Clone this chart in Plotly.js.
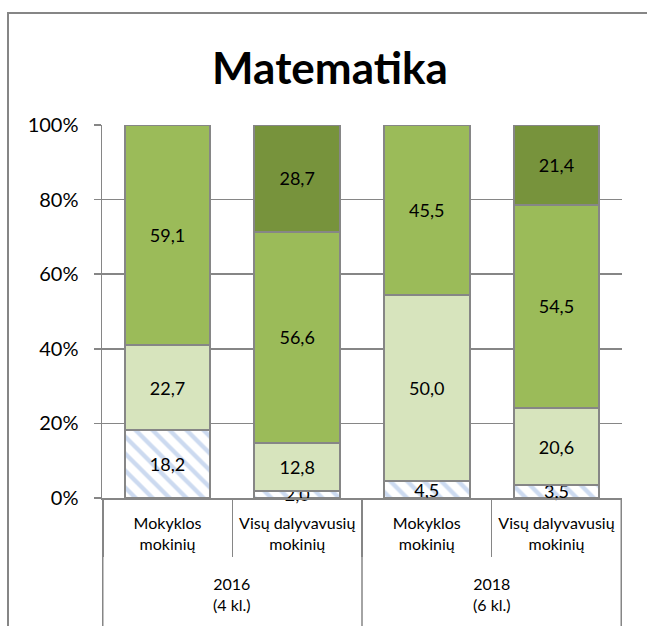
<!DOCTYPE html>
<html>
<head>
<meta charset="utf-8">
<script src="https://cdn.plot.ly/plotly-3.0.1.min.js"></script>
<style>
html,body{margin:0;padding:0;background:#fff;overflow:hidden;}
#wrap{position:relative;width:647px;height:626px;overflow:hidden;}
#chart{width:647px;height:626px;}
#frametop{position:absolute;left:7px;top:12px;width:640px;height:2px;background:#868686;pointer-events:none;}
#frameleft{position:absolute;left:7px;top:12px;width:2px;height:614px;background:#868686;pointer-events:none;}
</style>
</head>
<body>
<div id="wrap"><div id="chart"></div><div id="frametop"></div><div id="frameleft"></div></div>
<script>
const years = ["2016<br>(4 kl.)", "2016<br>(4 kl.)", "2018<br>(6 kl.)", "2018<br>(6 kl.)"];
const groups = ["Mokyklos<br>mokinių", "Visų dalyvavusių<br>mokinių", "Mokyklos<br>mokinių", "Visų dalyvavusių<br>mokinių"];
const level1 = [18.2, 2.0, 4.5, 3.5];
const level2 = [22.7, 12.8, 50.0, 20.6];
const level3 = [59.1, 56.6, 45.5, 54.5];
const level4 = [0, 28.7, 0, 21.4];
const yTickVals = [0, 20, 40, 60, 80, 100];

const fmt = v => (v ? v.toFixed(1).replace(".", ",") : "");
const grey = "#868686";
const keys = years.map((y, i) => y + " | " + groups[i]);

function bar(vals, fill) {
  return {
    type: "bar",
    x: keys,
    y: vals,
    text: vals.map(fmt),
    textposition: "inside",
    insidetextanchor: "middle",
    constraintext: "none",
    textangle: 0,
    textfont: {family: "Lato", size: 18, color: "#000"},
    hoverinfo: "skip",
    marker: {color: fill, line: {color: grey, width: vals.map(v => (v ? 2 : 0))}},
    showlegend: false
  };
}

const t1 = bar(level1, "#ffffff");
t1.cliponaxis = false;
t1.marker.pattern = {shape: "\\", fgcolor: "#CCDAF0", bgcolor: "#ffffff", size: 12, solidity: 0.36};
const traces = [t1, bar(level2, "#D7E4BD"), bar(level3, "#9BBB59"), bar(level4, "#77933C")];

// outer category groups (years): spans over category indices
const spans = [];
years.forEach((y, i) => {
  const last = spans[spans.length - 1];
  if (last && last.label === y) last.end = i; else spans.push({label: y, start: i, end: i});
});

const W = 647, H = 626, L = 102, R = 622, T = 125, B = 498;
const py = v => (B - v) / (B - T);

const shapes = [];
const bounds = new Set();
spans.forEach(s => { bounds.add(s.start - 0.5); bounds.add(s.end + 0.5); });
bounds.forEach(b => shapes.push({type: "line", xref: "x", yref: "paper", x0: b, x1: b, y0: 0, y1: py(H + 5),
  line: {color: grey, width: 1.5}}));

const annotations = spans.map(s => ({
  text: s.label, xref: "x", yref: "paper", x: (s.start + s.end) / 2, y: py(594),
  xanchor: "center", yanchor: "middle", showarrow: false,
  font: {family: "Lato", size: 16, color: "#000"}
}));

const layout = {
  width: W, height: H,
  margin: {l: L, r: W - R, t: T, b: H - B, pad: 0},
  paper_bgcolor: "#fff", plot_bgcolor: "#fff",
  font: {family: "Lato", color: "#000"},
  barmode: "stack",
  barnorm: "percent",
  bargap: 0.34,
  title: {text: "<b>Matematika</b>", font: {family: "Lato", size: 44, color: "#000"},
          x: 330 / W, xref: "container", xanchor: "center", y: 1 - 69 / H, yref: "container", yanchor: "middle"},
  xaxis: {
    type: "category",
    tickvals: keys,
    ticktext: groups,
    tickson: "boundaries",
    ticks: "outside", ticklen: 57, tickcolor: grey, tickwidth: 1.5,
    ticklabelstandoff: 10,
    showline: true, linecolor: grey, linewidth: 1.5,
    showgrid: false,
    tickfont: {family: "Lato", size: 16, color: "#000"},
    fixedrange: true
  },
  yaxis: {
    range: [0, 100],
    tickvals: yTickVals,
    ticktext: yTickVals.map(v => v + "%"),
    ticks: "outside", ticklen: 7, tickcolor: grey, tickwidth: 1.5,
    ticklabelstandoff: 11,
    showline: true, linecolor: grey, linewidth: 1.5,
    showgrid: true, gridcolor: grey, gridwidth: 1.5,
    zeroline: false,
    tickfont: {family: "Lato", size: 20, color: "#000"},
    fixedrange: true
  },
  shapes: shapes,
  annotations: annotations
};

Plotly.newPlot("chart", traces, layout, {displayModeBar: false, staticPlot: true});
</script>
</body>
</html>
